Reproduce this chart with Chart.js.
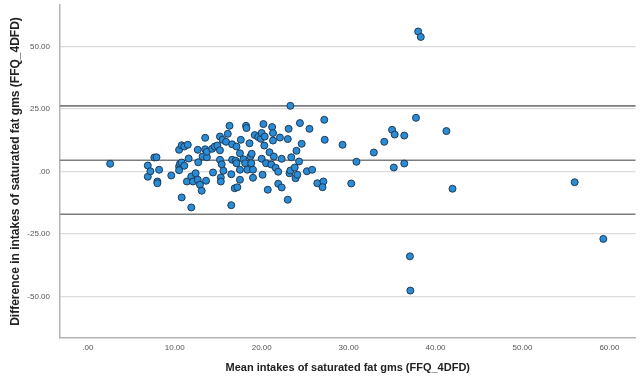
<!DOCTYPE html>
<html>
<head>
<meta charset="utf-8">
<script src="https://cdn.jsdelivr.net/npm/chart.js@4.4.1/dist/chart.umd.min.js"></script>
<style>
  html, body { margin: 0; padding: 0; background: #fff; }
  #wrap { width: 640px; height: 385px; }
</style>
</head>
<body>
<div id="wrap"><canvas id="baChart"></canvas></div>
<script>
// Bland-Altman: media de ambos métodos vs diferencia
const medias = [
    2.57, 6.9, 6.9, 7.2, 7.65, 7.9, 8.2, 8.0, 8.0, 9.6,
    10.5, 10.8, 11.1, 11.5, 10.5, 10.6, 10.8, 10.5, 11.1, 11.4,
    11.6, 10.8, 11.9, 11.9, 12.1, 12.4, 12.65, 12.7, 12.65, 12.9,
    13.1, 13.2, 13.5, 13.5, 13.7, 13.6, 13.7, 14.4, 14.3, 14.6,
    14.9, 15.2, 15.2, 15.2, 15.4, 15.3, 15.3, 15.6, 15.5, 15.9,
    16.1, 16.3, 16.6, 16.6, 16.5, 16.5, 16.9, 17.0, 17.1, 17.1,
    17.2, 17.5, 17.5, 17.6, 17.5, 17.9, 18.2, 18.25, 18.1, 18.35,
    18.6, 18.7, 18.85, 18.8, 19.0, 19.0, 19.2, 19.6, 19.9, 20.0,
    20.2, 20.3, 20.1, 20.35, 20.0, 20.5, 20.7, 20.9, 21.1, 21.2,
    21.3, 21.3, 21.4, 21.6, 21.9, 22.1, 21.9, 22.3, 22.3, 23.0,
    23.1, 23.3, 23.0, 23.2, 23.3, 23.4, 23.8, 23.9, 24.1, 24.0,
    24.3, 24.4, 24.6, 25.2, 25.5, 25.8, 26.4, 27.1, 27.0, 27.2,
    27.25, 29.3, 30.3, 30.9, 32.9, 34.1, 35.0, 35.3, 35.2, 36.4,
    36.4, 37.75, 38.0, 38.3, 37.05, 37.1, 41.25, 41.95, 56.0, 59.3
];
const diferencias = [
    3.1, 2.4, -2.1, 0.1, 5.6, 5.7, 0.7, -4.0, -4.7, -1.6,
    8.7, 10.5, 10.0, 10.7, 2.0, 3.1, 3.6, 0.5, 2.3, -4.0,
    5.2, -10.4, -14.4, -2.0, -4.0, -0.7, 8.7, 3.7, -3.3, -5.3,
    -7.7, 6.0, 13.5, 8.9, 5.7, -3.7, 7.9, -0.4, 9.1, 10.0,
    10.4, 14.0, 8.5, 4.7, 2.9, -2.4, -4.0, 0.3, 12.7, 11.9,
    15.1, 18.3, 10.9, 4.7, -1.1, -13.5, -6.7, 4.3, 10.0, 3.3,
    -6.3, 0.7, 7.3, 12.7, -3.3, 4.9, 18.3, 17.4, 3.3, 0.7,
    11.3, 6.0, 7.1, 3.3, -2.5, 0.7, 14.6, 13.8, 13.1, 15.4,
    19.0, 10.4, -1.3, 14.0, 5.1, 3.3, -7.3, 7.7, 2.8, 17.8,
    15.4, 12.4, 6.0, 1.5, -0.1, 13.6, -4.9, 5.1, -6.4, 13.0,
    17.1, 26.3, -11.3, -0.7, 0.4, 5.7, 1.6, -2.7, -1.3, 8.3,
    4.0, 19.4, 11.1, 0.1, 17.1, 0.7, -4.7, -4.0, -6.3, 20.7,
    12.7, 10.7, -4.8, 3.9, 7.6, 11.9, 16.7, 14.8, 1.6, 14.4,
    3.2, 21.5, 56.1, 53.9, -34.0, -47.7, 16.2, -6.9, -4.3, -27.0
];

// Límites de acuerdo y sesgo medio
const lineasReferencia = [26.3, 4.5, -17.1];

const ticksX = [0, 10, 20, 30, 40, 50, 60];
const ticksY = [-50, -25, 0, 25, 50];

function formatoSpss(v) {
    return v === 0 ? '.00' : v.toFixed(2);
}

// Dibuja las líneas horizontales antes de los puntos
const pluginLineas = {
    id: 'lineasReferencia',
    beforeDatasetsDraw(chart) {
        const { ctx, chartArea, scales } = chart;
        ctx.save();
        ctx.strokeStyle = '#7d7d7d';
        ctx.lineWidth = 1.6;
        lineasReferencia.forEach(v => {
            const y = scales.y.getPixelForValue(v);
            ctx.beginPath();
            ctx.moveTo(chartArea.left, y);
            ctx.lineTo(chartArea.right, y);
            ctx.stroke();
        });
        ctx.restore();
    }
};

const ctx = document.getElementById('baChart').getContext('2d');
const baChart = new Chart(ctx, {
    type: 'scatter',
    data: {
        datasets: [{
            data: medias.map((m, i) => ({ x: m, y: diferencias[i] })),
            backgroundColor: '#2a8bd6',
            borderColor: '#1f3a55',
            borderWidth: 1,
            pointRadius: 3.5,
            pointHoverRadius: 3.5
        }]
    },
    options: {
        responsive: true,
        maintainAspectRatio: false,
        animation: false,
        layout: {
            padding: { top: 5, right: 0, left: 0, bottom: 0 }
        },
        plugins: {
            legend: { display: false },
            tooltip: { enabled: false }
        },
        scales: {
            x: {
                type: 'linear',
                min: -3.2,
                max: 63,
                afterBuildTicks: scale => {
                    scale.ticks = ticksX.map(v => ({ value: v }));
                },
                afterFit: scale => {
                    scale.height = 47;
                    scale.paddingLeft = 0;
                    scale.paddingRight = 0;
                },
                grid: {
                    display: false,
                    drawTicks: false
                },
                border: { color: '#b4b4b4', width: 1.5 },
                ticks: {
                    padding: 5,
                    maxRotation: 0,
                    color: '#555',
                    font: { family: 'Liberation Sans', size: 8 },
                    callback: v => formatoSpss(v)
                },
                title: {
                    display: true,
                    text: 'Mean intakes of saturated fat gms (FFQ_4DFD)',
                    color: '#222',
                    font: { family: 'Liberation Sans', size: 11, weight: 'bold' },
                    padding: { top: 0, bottom: 10 }
                }
            },
            y: {
                type: 'linear',
                min: -66.7,
                max: 66.7,
                afterBuildTicks: scale => {
                    scale.ticks = ticksY.map(v => ({ value: v }));
                },
                afterFit: scale => {
                    scale.width = 60;
                    // sin margen extra arriba/abajo por las etiquetas
                    scale.paddingTop = 0;
                    scale.paddingBottom = 0;
                },
                grid: {
                    color: '#dcdcdc',
                    lineWidth: 1.2,
                    drawTicks: false
                },
                border: { color: '#b4b4b4', width: 1.5 },
                ticks: {
                    padding: 10,
                    color: '#555',
                    font: { family: 'Liberation Sans', size: 8 },
                    callback: v => formatoSpss(v)
                },
                title: {
                    display: true,
                    text: 'Difference in intakes of saturated fat gms (FFQ_4DFD)',
                    color: '#222',
                    font: { family: 'Liberation Sans', size: 12, weight: 'bold' },
                    padding: { top: 8, bottom: 0 }
                }
            }
        }
    },
    plugins: [pluginLineas]
});
</script>
</body>
</html>
